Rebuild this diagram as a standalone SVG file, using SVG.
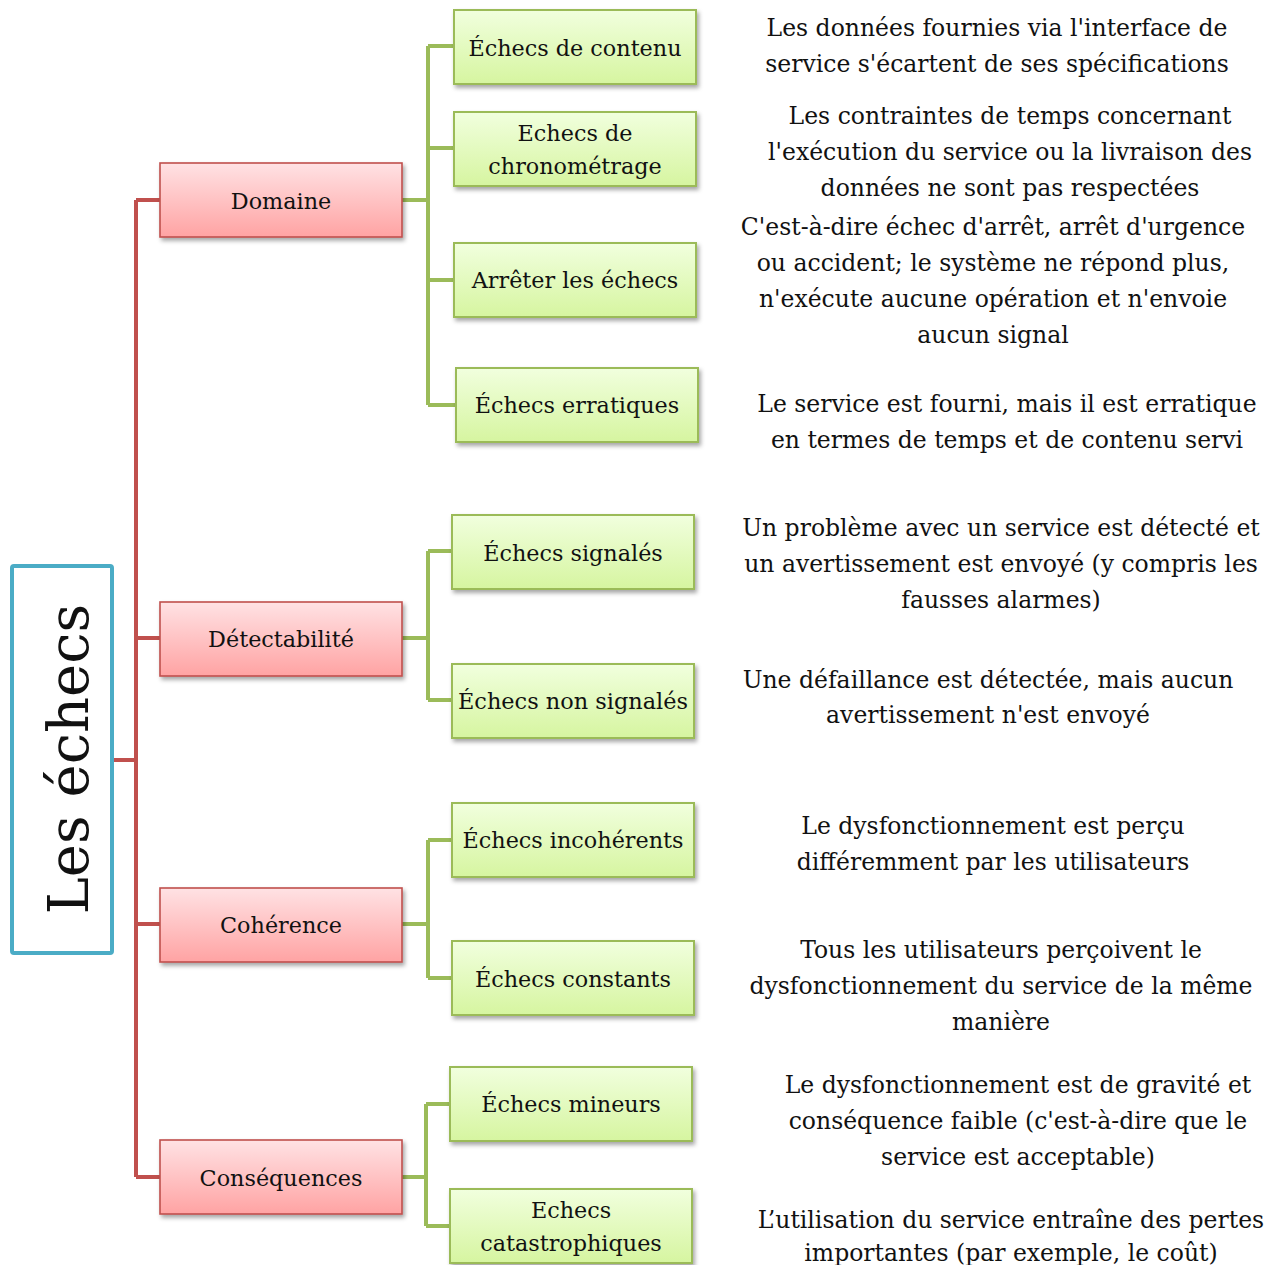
<svg xmlns="http://www.w3.org/2000/svg" width="1281" height="1265" viewBox="0 0 1281 1265">
  <style>
    text { font-family: "DejaVu Serif", "Liberation Serif", serif; font-size: 23.5px; fill: #111; }
    .lbl { text-anchor: middle; font-size: 22.3px; }
    .desc { text-anchor: middle; }
    .red { fill: url(#gRed); stroke: #C0504D; stroke-width: 1.6; filter: url(#shadow); }
    .grn { fill: url(#gGrn); stroke: #9BBB59; stroke-width: 2; filter: url(#shadow); }
    .lr { fill: none; stroke: #C0504D; stroke-width: 4; stroke-linejoin: round; }
    .lg { fill: none; stroke: #9BBB59; stroke-width: 4; stroke-linejoin: round; }
  </style>
  <defs>
    <linearGradient id="gRed" x1="0" y1="0" x2="0" y2="1">
      <stop offset="0" stop-color="#FFE2E4"/>
      <stop offset="1" stop-color="#FFA3A3"/>
    </linearGradient>
    <linearGradient id="gGrn" x1="0" y1="0" x2="0" y2="1">
      <stop offset="0" stop-color="#F1FFDE"/>
      <stop offset="1" stop-color="#D6F5A0"/>
    </linearGradient>
    <filter id="shadow" x="-10%" y="-20%" width="130%" height="160%">
      <feDropShadow dx="2" dy="3" stdDeviation="2" flood-color="#000" flood-opacity="0.35"/>
    </filter>
  </defs>

  <rect width="1281" height="1265" fill="#fff"/>

  <!-- connectors -->
  <g id="connectors">
    <path class="lr" d="M112 760 H136 M136 200 V1177 M136 200 H160 M136 638 H160 M136 924 H160 M136 1177 H160"/>
    <path class="lg" d="M402 200 H428 M428 46 V405 M428 46 H454 M428 148 H454 M428 280 H454 M428 405 H456"/>
    <path class="lg" d="M402 638 H428 M428 551 V700 M428 551 H452 M428 700 H452"/>
    <path class="lg" d="M402 924 H428 M428 840 V978 M428 840 H452 M428 978 H452"/>
    <path class="lg" d="M402 1177 H426 M426 1104 V1226 M426 1104 H450 M426 1226 H450"/>
  </g>

  <!-- root -->
  <g id="root">
    <rect x="12" y="566" width="100" height="387" rx="2" fill="#fff" stroke="#4BACC6" stroke-width="4"/>
    <text transform="translate(88,759) rotate(-90)" text-anchor="middle" style="font-size:56px">Les échecs</text>
  </g>

  <!-- categories -->
  <g id="domaine">
    <rect class="red" x="160" y="163" width="242" height="74"/>
    <text class="lbl" x="281" y="209">Domaine</text>
  </g>
  <g id="detectabilite">
    <rect class="red" x="160" y="602" width="242" height="74"/>
    <text class="lbl" x="281" y="647">Détectabilité</text>
  </g>
  <g id="coherence">
    <rect class="red" x="160" y="888" width="242" height="74"/>
    <text class="lbl" x="281" y="933">Cohérence</text>
  </g>
  <g id="consequences">
    <rect class="red" x="160" y="1140" width="242" height="74"/>
    <text class="lbl" x="281" y="1186">Conséquences</text>
  </g>

  <!-- failure types -->
  <g id="contenu">
    <rect class="grn" x="454" y="10" width="242" height="74"/>
    <text class="lbl" x="575" y="56">Échecs de contenu</text>
  </g>
  <g id="chronometrage">
    <rect class="grn" x="454" y="112" width="242" height="74"/>
    <text class="lbl" x="575" y="141">Echecs de</text>
    <text class="lbl" x="575" y="174">chronométrage</text>
  </g>
  <g id="arret">
    <rect class="grn" x="454" y="243" width="242" height="74"/>
    <text class="lbl" x="575" y="288">Arrêter les échecs</text>
  </g>
  <g id="erratiques">
    <rect class="grn" x="456" y="368" width="242" height="74"/>
    <text class="lbl" x="577" y="413">Échecs erratiques</text>
  </g>
  <g id="signales">
    <rect class="grn" x="452" y="515" width="242" height="74"/>
    <text class="lbl" x="573" y="561">Échecs signalés</text>
  </g>
  <g id="non-signales">
    <rect class="grn" x="452" y="664" width="242" height="74"/>
    <text class="lbl" x="573" y="709" textLength="230" lengthAdjust="spacingAndGlyphs">Échecs non signalés</text>
  </g>
  <g id="incoherents">
    <rect class="grn" x="452" y="803" width="242" height="74"/>
    <text class="lbl" x="573" y="848">Échecs incohérents</text>
  </g>
  <g id="constants">
    <rect class="grn" x="452" y="941" width="242" height="74"/>
    <text class="lbl" x="573" y="987">Échecs constants</text>
  </g>
  <g id="mineurs">
    <rect class="grn" x="450" y="1067" width="242" height="74"/>
    <text class="lbl" x="571" y="1112">Échecs mineurs</text>
  </g>
  <g id="catastrophiques">
    <rect class="grn" x="450" y="1189" width="242" height="74"/>
    <text class="lbl" x="571" y="1218">Echecs</text>
    <text class="lbl" x="571" y="1251">catastrophiques</text>
  </g>

  <!-- descriptions -->
  <g id="descriptions">
    <text class="desc" x="997" y="36">Les données fournies via l'interface de</text>
    <text class="desc" x="997" y="72">service s'écartent de ses spécifications</text>

    <text class="desc" x="1010" y="124">Les contraintes de temps concernant</text>
    <text class="desc" x="1010" y="160">l'exécution du service ou la livraison des</text>
    <text class="desc" x="1010" y="196">données ne sont pas respectées</text>

    <text class="desc" x="993" y="235">C'est-à-dire échec d'arrêt, arrêt d'urgence</text>
    <text class="desc" x="993" y="271">ou accident; le système ne répond plus,</text>
    <text class="desc" x="993" y="307">n'exécute aucune opération et n'envoie</text>
    <text class="desc" x="993" y="343">aucun signal</text>

    <text class="desc" x="1007" y="412">Le service est fourni, mais il est erratique</text>
    <text class="desc" x="1007" y="448">en termes de temps et de contenu servi</text>

    <text class="desc" x="1001" y="536">Un problème avec un service est détecté et</text>
    <text class="desc" x="1001" y="572">un avertissement est envoyé (y compris les</text>
    <text class="desc" x="1001" y="608">fausses alarmes)</text>

    <text class="desc" x="988" y="688">Une défaillance est détectée, mais aucun</text>
    <text class="desc" x="988" y="723">avertissement n'est envoyé</text>

    <text class="desc" x="993" y="834">Le dysfonctionnement est perçu</text>
    <text class="desc" x="993" y="870">différemment par les utilisateurs</text>

    <text class="desc" x="1001" y="958">Tous les utilisateurs perçoivent le</text>
    <text class="desc" x="1001" y="994">dysfonctionnement du service de la même</text>
    <text class="desc" x="1001" y="1030">manière</text>

    <text class="desc" x="1018" y="1093">Le dysfonctionnement est de gravité et</text>
    <text class="desc" x="1018" y="1129">conséquence faible (c'est-à-dire que le</text>
    <text class="desc" x="1018" y="1165">service est acceptable)</text>

    <text class="desc" x="1011" y="1228">L’utilisation du service entraîne des pertes</text>
    <text class="desc" x="1011" y="1261">importantes (par exemple, le coût)</text>
  </g>
</svg>
